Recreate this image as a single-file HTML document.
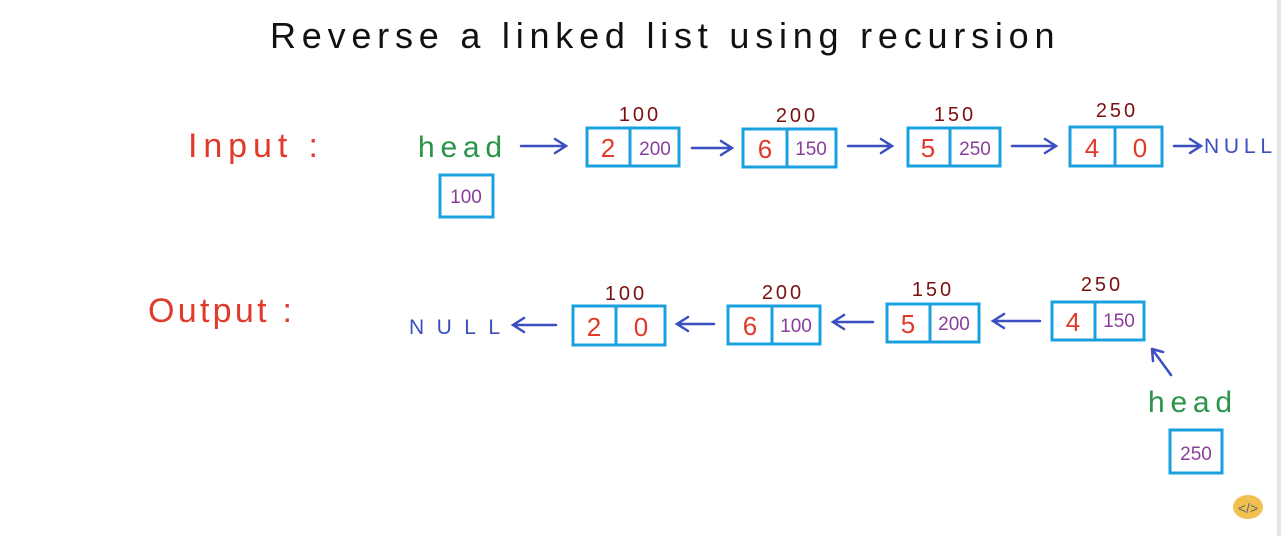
<!DOCTYPE html>
<html><head><meta charset="utf-8"><style>
html,body{margin:0;padding:0;background:#fff;}
svg{display:block}
text{font-family:"Liberation Sans",sans-serif;}
</style></head><body>
<svg width="1281" height="536" viewBox="0 0 1281 536">
<rect x="0" y="0" width="1281" height="536" fill="#fff"/>
<rect x="1277" y="0" width="4" height="536" fill="#e6e6e6"/>
<text x="665" y="48" text-anchor="middle" font-size="36" fill="#111" letter-spacing="5.5" textLength="790" lengthAdjust="spacing">Reverse a linked list using recursion</text>
<text x="188" y="157" font-size="34" fill="#e03a2a" textLength="130" lengthAdjust="spacing">Input :</text>
<text x="148" y="322" font-size="34" fill="#e03a2a" textLength="144" lengthAdjust="spacing">Output :</text>
<text x="418" y="157" font-size="30" fill="#2a9448" textLength="84" lengthAdjust="spacing">head</text>
<text x="1148" y="412" font-size="30" fill="#2a9448" textLength="84" lengthAdjust="spacing">head</text>
<g fill="none" stroke="#1ba0df" stroke-width="3">
<rect x="440" y="175" width="53" height="42"/>
<rect x="1170" y="430" width="52" height="43"/>
<rect x="587" y="128" width="92" height="38"/><line x1="630" y1="128" x2="630" y2="166"/>
<rect x="743" y="129" width="93" height="38"/><line x1="787" y1="129" x2="787" y2="167"/>
<rect x="908" y="128" width="92" height="38"/><line x1="950" y1="128" x2="950" y2="166"/>
<rect x="1070" y="127" width="92" height="39"/><line x1="1115" y1="127" x2="1115" y2="166"/>
<rect x="573" y="306" width="92" height="39"/><line x1="616" y1="306" x2="616" y2="345"/>
<rect x="728" y="306" width="92" height="38"/><line x1="772" y1="306" x2="772" y2="344"/>
<rect x="887" y="304" width="92" height="38"/><line x1="930" y1="304" x2="930" y2="342"/>
<rect x="1052" y="302" width="92" height="38"/><line x1="1095" y1="302" x2="1095" y2="340"/>
</g>
<g font-size="26" fill="#e03a2a" text-anchor="middle">
<text x="608" y="157">2</text><text x="765" y="158">6</text><text x="928" y="157">5</text><text x="1092" y="157">4</text>
<text x="594" y="336">2</text><text x="750" y="335">6</text><text x="908" y="333">5</text><text x="1073" y="331">4</text>
<text x="1140" y="157">0</text><text x="641" y="336">0</text>
</g>
<g font-size="19" fill="#8a3e9a" text-anchor="middle">
<text x="466" y="203">100</text><text x="1196" y="460">250</text>
<text x="655" y="155">200</text><text x="811" y="155">150</text><text x="975" y="155">250</text>
<text x="796" y="332">100</text><text x="954" y="330">200</text><text x="1119" y="327">150</text>
</g>
<g font-size="20" fill="#7a1010" text-anchor="middle" letter-spacing="3">
<text x="640" y="121">100</text><text x="797" y="122">200</text><text x="955" y="121">150</text><text x="1117" y="117">250</text>
<text x="626" y="300">100</text><text x="783" y="299">200</text><text x="933" y="296">150</text><text x="1102" y="291">250</text>
</g>
<g fill="none" stroke="#3a4fc0" stroke-width="2.5" stroke-linecap="round">
<path d="M521 146H565M555 139L566 146L555 153"/>
<path d="M692 148H731M721 141L732 148L721 155"/>
<path d="M848 146H891M881 139L892 146L881 153"/>
<path d="M1012 146H1055M1045 139L1056 146L1045 153"/>
<path d="M1174 146H1200M1190 139L1201 146L1190 153"/>
<path d="M556 325H514M524 318L513 325L524 332"/>
<path d="M714 324H678M688 317L677 324L688 331"/>
<path d="M873 322H834M844 315L833 322L844 329"/>
<path d="M1040 321H994M1004 314L993 321L1004 328"/>
<path d="M1171 375L1152 349M1152 349L1153 361M1152 349L1163 352"/>
</g>
<text x="1204" y="153" font-size="21" fill="#3a4fc0" textLength="68" lengthAdjust="spacing">NULL</text>
<text x="409" y="334" font-size="21" fill="#3a4fc0" textLength="91" lengthAdjust="spacing">NULL</text>
<ellipse cx="1248" cy="507" rx="15" ry="12" fill="#f0c050"/>
<text x="1248" y="513" font-size="14" fill="#666" text-anchor="middle">&lt;/&gt;</text>
</svg>
</body></html>
